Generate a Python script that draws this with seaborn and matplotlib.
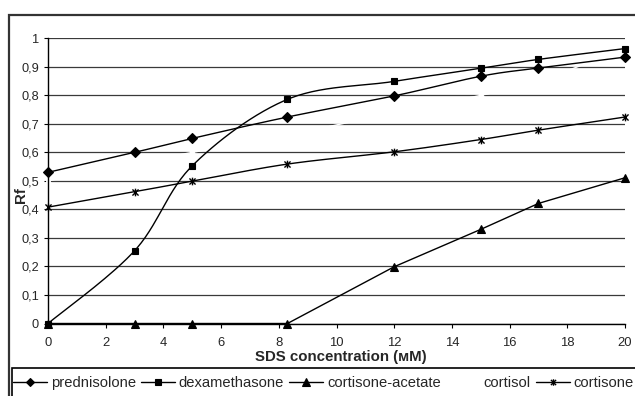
import numpy as np
import pandas as pd
import matplotlib
matplotlib.use("Agg")
import matplotlib.pyplot as plt
import seaborn as sns
from matplotlib.path import Path
from matplotlib.lines import Line2D
from matplotlib.patches import Rectangle

# ---- data -----------------------------------------------------------------
sds_mm = [0, 3, 5, 8.3, 12, 15, 17, 20]
prednisolone = [0.53, 0.60, 0.649, 0.724, 0.798, 0.867, 0.896, 0.934]
dexamethasone = [0.0, 0.255, 0.553, 0.786, 0.849, 0.895, 0.926, 0.964]
cortisone_acetate = [0.0, 0.0, 0.0, 0.0, 0.199, 0.33, 0.421, 0.511]
cortisol = [0.50, 0.56, 0.60, 0.66, 0.74, 0.80, 0.85, 0.965]
cortisone = [0.408, 0.462, 0.499, 0.559, 0.602, 0.645, 0.678, 0.724]

series_names = ["prednisolone", "dexamethasone", "cortisone-acetate",
                "cortisol", "cortisone"]
x_ticks = [0, 2, 4, 6, 8, 10, 12, 14, 16, 18, 20]
y_ticks = [0, 0.1, 0.2, 0.3, 0.4, 0.5, 0.6, 0.7, 0.8, 0.9, 1.0]
y_tick_labels = ["0", "0,1", "0,2", "0,3", "0,4", "0,5",
                 "0,6", "0,7", "0,8", "0,9", "1"]
x_label = "SDS concentration (\u043cM)"
y_label = "Rf"

# ---- style ----------------------------------------------------------------
sns.set_theme(style="white")
plt.rcParams["font.family"] = ["Liberation Sans", "DejaVu Sans"]
plt.rcParams["font.size"] = 10

W, H = 635, 396
fig = plt.figure(figsize=(W / 100, H / 100), dpi=100)
fig.patch.set_facecolor("white")

ax_l, ax_r, ax_t, ax_b = 48, 625, 38.3, 323.5
ax = fig.add_axes([ax_l / W, 1 - ax_b / H, (ax_r - ax_l) / W, (ax_b - ax_t) / H])
ax.set_facecolor("white")

# asterisk marker: an "x" crossed by a vertical stroke
star = Path([(-1, -1), (1, 1), (-1, 1), (1, -1), (0, -1.25), (0, 1.25)],
            [Path.MOVETO, Path.LINETO, Path.MOVETO, Path.LINETO,
             Path.MOVETO, Path.LINETO])

px_per_x = (ax_r - ax_l) / 20.0
px_per_y = (ax_b - ax_t) / 1.0


def smooth(x, y, n=30):
    """Bezier smoothing through the points, computed in screen proportions."""
    P = np.column_stack([np.asarray(x, float) * px_per_x,
                         np.asarray(y, float) * px_per_y])
    m = len(P)
    out = [P[0]]
    t = np.linspace(0, 1, n + 1)[1:, None]
    for i in range(m - 1):
        p0 = P[i - 1] if i > 0 else P[i]
        p1, p2 = P[i], P[i + 1]
        p3 = P[i + 2] if i + 2 < m else P[i + 1]
        c1 = p1 + (p2 - p0) / 6.0
        c2 = p2 - (p3 - p1) / 6.0
        seg = ((1 - t) ** 3) * p1 + 3 * ((1 - t) ** 2) * t * c1 \
            + 3 * (1 - t) * t ** 2 * c2 + t ** 3 * p2
        out.extend(seg)
    out = np.array(out)
    return out[:, 0] / px_per_x, out[:, 1] / px_per_y


styles = {
    "prednisolone": dict(marker="D", ms=5.0, color="black", mfc="black", mew=0.8, smooth=True, z=4, mz=5),
    "dexamethasone": dict(marker="s", ms=5.0, color="black", mfc="black", mew=0.8, smooth=True, z=4, mz=5),
    "cortisone-acetate": dict(marker="^", ms=6.0, color="black", mfc="black", mew=0.8, smooth=False, z=4, mz=5),
    "cortisol": dict(marker="x", ms=6.0, color="white", mfc="white", mew=2.0, smooth=True, z=3, mz=4.5),
    "cortisone": dict(marker=star, ms=5.5, color="black", mfc="none", mew=1.0, smooth=True, z=4, mz=5),
}
values = {
    "prednisolone": prednisolone,
    "dexamethasone": dexamethasone,
    "cortisone-acetate": cortisone_acetate,
    "cortisol": cortisol,
    "cortisone": cortisone,
}

for name in series_names:
    st = styles[name]
    yv = values[name]
    if st["smooth"]:
        cx, cy = smooth(sds_mm, yv)
    else:
        cx, cy = np.asarray(sds_mm, float), np.asarray(yv, float)
    curve = pd.DataFrame({"x": cx, "y": cy})
    sns.lineplot(data=curve, x="x", y="y", ax=ax, color=st["color"],
                 lw=1.0, sort=False, estimator=None, zorder=st["z"])
    pts = pd.DataFrame({"x": sds_mm, "y": yv})
    sns.lineplot(data=pts, x="x", y="y", ax=ax, linestyle="none",
                 marker=st["marker"], markersize=st["ms"],
                 markerfacecolor=st["mfc"], markeredgecolor=st["color"],
                 markeredgewidth=st["mew"], color=st["color"],
                 sort=False, estimator=None, zorder=st["mz"])

for ln in ax.lines:
    ln.set_clip_on(False)

# ---- axes -----------------------------------------------------------------
ax.set_xlim(0, 20)
ax.set_ylim(0, 1)
ax.set_xticks(x_ticks)
ax.set_xticklabels([str(v) for v in x_ticks])
ax.set_yticks(y_ticks)
ax.set_yticklabels(y_tick_labels)
ax.tick_params(axis="x", direction="out", length=3, width=0.8, color="black",
               pad=7, labelsize=9.4, bottom=True)
ax.tick_params(axis="y", direction="out", length=3, width=0.8, color="black",
               pad=3.5, labelsize=9.2, left=True)
ax.yaxis.grid(True, color="#3a3a3a", lw=0.9)
ax.xaxis.grid(False)
ax.set_axisbelow(True)
for s in ["top", "right"]:
    ax.spines[s].set_visible(False)
for s in ["left", "bottom"]:
    ax.spines[s].set_color("black")
    ax.spines[s].set_linewidth(1.0)
    ax.spines[s].set_zorder(4.6)

ax.set_xlabel(x_label, fontweight="bold", fontsize=10.8)
ax.xaxis.set_label_coords((341 - ax_l) / (ax_r - ax_l), (ax_b - 357.5) / (ax_b - ax_t))
ax.xaxis.label.set_va("center")
ax.set_ylabel(y_label, fontweight="bold", fontsize=10.8)
ax.yaxis.set_label_coords((21 - ax_l) / (ax_r - ax_l), (ax_b - 195) / (ax_b - ax_t))
ax.yaxis.label.set_va("center")

# ---- chart frame and legend box ------------------------------------------
fig.patches.append(Rectangle((9 / W, -0.05), 1.1, 1 - 15 / H + 0.05,
                             transform=fig.transFigure, fill=False,
                             edgecolor="#333333", lw=1.6, zorder=0))
fig.patches.append(Rectangle((12 / W, -0.05), 1.1, 1 - 368 / H + 0.05,
                             transform=fig.transFigure, fill=False,
                             edgecolor="black", lw=1.2, zorder=0))

handles = []
for name in series_names:
    st = styles[name]
    handles.append(Line2D([0], [0], color=st["color"], lw=1.0,
                          marker=st["marker"], markersize=st["ms"] * 0.85,
                          markerfacecolor=st["mfc"], markeredgecolor=st["color"],
                          markeredgewidth=st["mew"]))
fig.legend(handles, series_names, loc="center left",
           bbox_to_anchor=(13 / W, 1 - 383 / H), ncol=5, frameon=False,
           fontsize=10.6, handlelength=2.3, handletextpad=0.27,
           columnspacing=0.34, borderpad=0, borderaxespad=0)

fig.savefig("out.png", dpi=100, facecolor="white")
